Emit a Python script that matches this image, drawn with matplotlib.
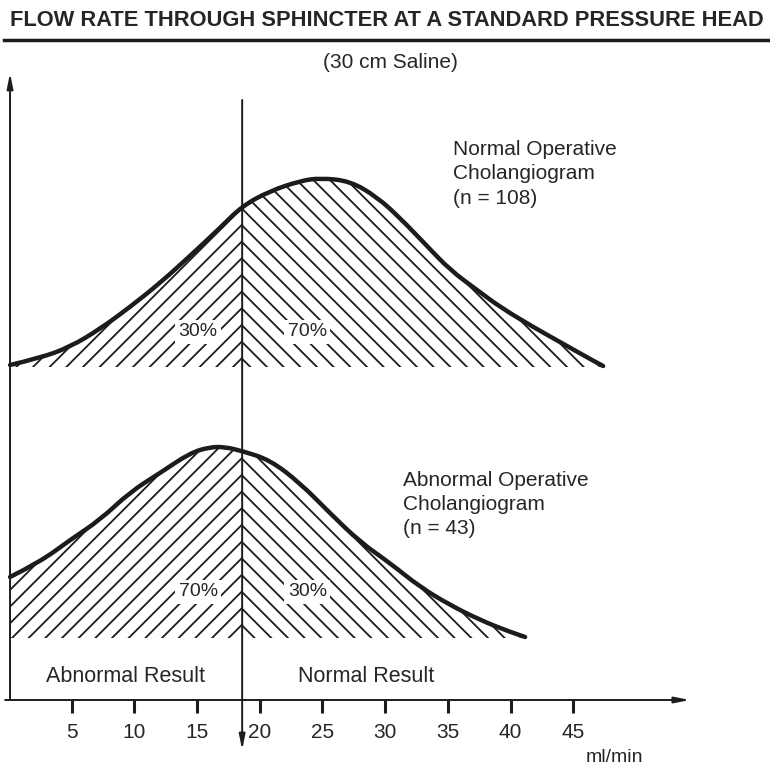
import numpy as np
import matplotlib
matplotlib.use("Agg")
import matplotlib.pyplot as plt
from matplotlib.path import Path
from matplotlib.patches import PathPatch

# ---------------- data ----------------
title = "FLOW RATE THROUGH SPHINCTER AT A STANDARD PRESSURE HEAD"
subtitle = "(30 cm Saline)"
tick_values = [5, 10, 15, 20, 25, 30, 35, 40, 45]
cutoff = 18.6  # ml/min, boundary between abnormal / normal result

# Normal operative cholangiogram (n = 108) — relative frequency (arbitrary units)
normal_x = [0.09, 2.48, 4.87, 7.26, 9.66, 12.05, 14.44, 16.83, 18.6, 20.82,
            23.21, 24.81, 27.20, 29.35, 31.19, 33.34, 35.18, 37.33, 39.16,
            41.80, 44.51, 46.34, 47.38]
normal_y = [2, 9, 20, 38, 60, 84, 111, 139, 161, 176,
            186, 189, 186, 170, 149, 121, 97, 77, 60,
            40, 21, 8, 1]

# Abnormal operative cholangiogram (n = 43)
abnormal_x = [0.09, 2.48, 4.87, 7.26, 9.66, 12.05, 14.44, 16.04, 17.23, 18.6,
              20.82, 23.21, 25.59, 28.0, 30.38, 32.78, 35.17, 37.57, 39.96, 41.16]
abnormal_y = [61, 76, 98, 118, 146, 165, 185, 191, 191, 187,
              178, 155, 125, 96, 75, 51, 33, 18, 6, 1]

normal_label = "Normal Operative\nCholangiogram\n(n = 108)"
abnormal_label = "Abnormal Operative\nCholangiogram\n(n = 43)"
normal_pcts = ["30%", "70%"]
abnormal_pcts = ["70%", "30%"]
region_labels = ["Abnormal Result", "Normal Result"]
unit_label = "ml/min"

# ---------------- layout / style ----------------
INK = "#1c1c1c"
TXT = "#262626"
plt.rcParams['font.family'] = ['Liberation Sans', 'DejaVu Sans']
plt.rcParams['hatch.linewidth'] = 1.3
plt.rcParams['hatch.color'] = INK

fig = plt.figure(figsize=(7.7, 7.7), dpi=100)
ax = fig.add_axes([0, 0, 1, 1])
ax.set_xlim(-0.71, 60.69)
ax.set_ylim(-70, 700)
ax.axis('off')

upper_base = 333
lower_base = 62


def smooth_verts(pts):
    """Quadratic-Bezier path through the data points (points act as control points)."""
    pts = np.asarray(pts, float)
    verts = [pts[0]]
    codes = [Path.MOVETO]
    n = len(pts)
    for i in range(1, n - 1):
        end = pts[-1] if i == n - 2 else (pts[i] + pts[i + 1]) / 2
        verts += [pts[i], end]
        codes += [Path.CURVE3, Path.CURVE3]
    if n == 2:
        verts.append(pts[1])
        codes.append(Path.LINETO)
    return verts, codes


def draw_curve(xs, ys, base):
    xs = np.asarray(xs, float)
    ys = np.asarray(ys, float) + base
    pts = np.column_stack([xs, ys])
    left = pts[xs <= cutoff + 1e-9]
    right = pts[xs >= cutoff - 1e-9]
    for part, hatch in ((left, '//'), (right, '\\\\')):
        v, c = smooth_verts(part)
        v = v + [(part[-1, 0], base), (part[0, 0], base), (part[0, 0], base)]
        c = c + [Path.LINETO, Path.LINETO, Path.CLOSEPOLY]
        ax.add_patch(PathPatch(Path(v, c), facecolor='none', edgecolor=INK,
                               hatch=hatch, linewidth=0, zorder=2))
    v, c = smooth_verts(pts)
    ax.add_patch(PathPatch(Path(v, c), facecolor='none', edgecolor=INK,
                           lw=3.2, capstyle='round', joinstyle='round', zorder=4))


draw_curve(normal_x, normal_y, upper_base)
draw_curve(abnormal_x, abnormal_y, lower_base)

# axes lines with arrows
arrow = dict(arrowstyle='-|>,head_length=0.9,head_width=0.18', lw=1.4,
             color=INK, shrinkA=0, shrinkB=0)
ax.annotate('', xy=(0.09, 627), xytext=(0.09, 0), arrowprops=arrow, zorder=5)
ax.annotate('', xy=(54.3, 0), xytext=(-0.3, 0), arrowprops=arrow, zorder=5)
ax.annotate('', xy=(cutoff, -50), xytext=(cutoff, 600), arrowprops=arrow, zorder=5)

# ticks
ax.vlines(tick_values, -13, 0, color=INK, lw=2.2)
for t in tick_values:
    ax.text(t, -33, str(t), ha='center', va='center', fontsize=15, color=TXT)
ax.text(48.3, -57, unit_label, ha='center', va='center', fontsize=14, color=TXT)

# percentage labels
pct_box = dict(facecolor='white', edgecolor='none', pad=2.5)
for txt, x in zip(normal_pcts, [15.1, 23.8]):
    ax.text(x, 368, txt, ha='center', va='center', fontsize=14, color=TXT,
            bbox=pct_box, zorder=6)
for txt, x in zip(abnormal_pcts, [15.1, 23.8]):
    ax.text(x, 108, txt, ha='center', va='center', fontsize=14, color=TXT,
            bbox=pct_box, zorder=6)

# group labels
ax.text(35.4, 560, normal_label, ha='left', va='top', fontsize=15, color=TXT,
        linespacing=1.35)
ax.text(31.4, 229, abnormal_label, ha='left', va='top', fontsize=15, color=TXT,
        linespacing=1.35)

# region labels
ax.text(9.3, 24, region_labels[0], ha='center', va='center', fontsize=15.5, color=TXT)
ax.text(28.5, 24, region_labels[1], ha='center', va='center', fontsize=15.5, color=TXT)

# title, rule and subtitle
ttl = fig.text(10 / 770, 1 - 21 / 770, title, ha='left', va='center', fontsize=18,
               fontweight='bold', color=TXT)
fig.canvas.draw()
w = ttl.get_window_extent(renderer=fig.canvas.get_renderer()).width
ttl.set_fontsize(18 * 752 / w)

fig.add_artist(plt.Line2D([4 / 770, 1.0], [1 - 40 / 770, 1 - 40 / 770],
                          color=INK, lw=2.5, transform=fig.transFigure))
fig.text(390 / 770, 1 - 62 / 770, subtitle, ha='center', va='center', fontsize=15,
         color=TXT)

fig.savefig("out.png", dpi=100, facecolor='white')
